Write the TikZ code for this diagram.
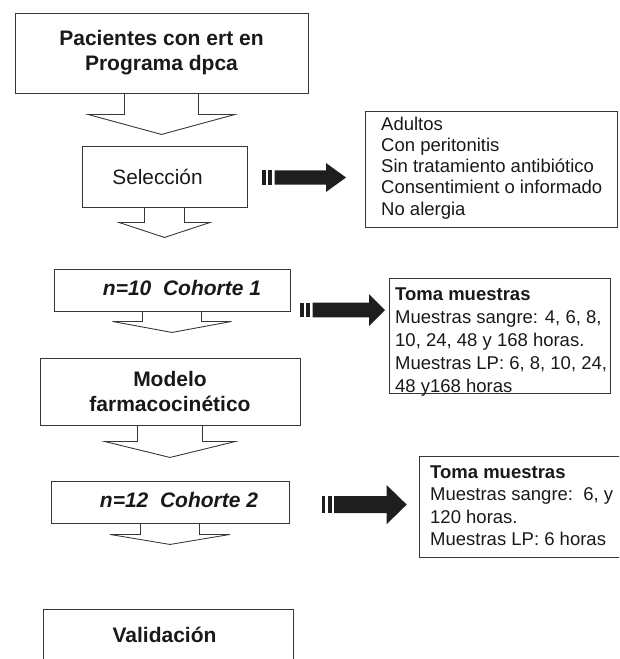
\documentclass[tikz,border=0pt]{standalone}
\usepackage{fontspec}
\setmainfont{Liberation Sans}
\usetikzlibrary{calc}
\definecolor{linec}{RGB}{55,55,55}
\definecolor{arrowc}{RGB}{30,30,30}
\definecolor{txtc}{RGB}{25,25,25}
\tikzset{
  flowbox/.style={draw=linec, line width=0.9pt, inner sep=0pt, align=center, text=txtc},
  outl/.style={draw=linec, line width=0.9pt, line join=miter},
  arrowfill/.style={fill=arrowc},
  infobox/.style={draw=linec, line width=0.9pt, inner sep=0pt, anchor=north west},
  infotxt/.style={inner sep=0pt, anchor=base west, text=txtc},
  bigfont/.style={font=\fontsize{21}{25}\selectfont\bfseries},
  smallfont/.style={font=\fontsize{18.5}{21.3}\selectfont},
}
% hollow block arrow below a node: #1 node, #2 half stem, #3 stem length, #4 half wing, #5 head length
\newcommand\hollowarrow[5]{%
  \draw[outl] ([shift={(-#2,0)}]#1.south) -- ([shift={(-#2,#3)}]#1.south)
    -- ([shift={(-#4,#3)}]#1.south) -- ([shift={(0,#3+#5)}]#1.south)
    -- ([shift={(#4,#3)}]#1.south) -- ([shift={(#2,#3)}]#1.south)
    -- ([shift={(#2,0)}]#1.south);}
% solid arrow with two bars: #1 start coordinate, #2 tip distance, #3 head length, #4 shaft half, #5 head half
\newcommand\solidarrow[5]{%
  \begin{scope}[shift={(#1)}]
    \fill[arrowfill] (0,-#4) rectangle (3.6,#4);
    \fill[arrowfill] (6.2,-#4) rectangle (9.8,#4);
    \fill[arrowfill] (12.5,-#4) -- ({#2-#3},-#4) -- ({#2-#3},-#5) -- (#2,0)
      -- ({#2-#3},#5) -- ({#2-#3},#4) -- (12.5,#4) -- cycle;
  \end{scope}}
\begin{document}
\begin{tikzpicture}[x=1pt,y=-1pt]
\useasboundingbox (0,0) rectangle (619,659);
\clip (0,0) rectangle (619,659);

% left column
\node[flowbox, bigfont, minimum width=293pt, minimum height=80pt] (pac) at (161.5,53)
  {Pacientes con ert en\\Programa dpca};
\node[flowbox, font=\fontsize{20.8}{24}\selectfont, minimum width=165pt, minimum height=61pt] (sel) at (164.5,176.5)
  {Selección\hspace*{14pt}};
\node[flowbox, font=\fontsize{21}{25}\selectfont\bfseries\itshape, minimum width=236pt, minimum height=42pt,
  text height=10pt, text depth=0pt] (coh1) at (172,290)
  {\hspace*{20pt}n=10\ \ Cohorte 1};
\node[flowbox, bigfont, minimum width=260pt, minimum height=67pt] (mod) at (170,391.5)
  {Modelo\\farmacocinético};
\node[flowbox, font=\fontsize{21}{25}\selectfont\bfseries\itshape, minimum width=238pt, minimum height=42pt,
  text height=10pt, text depth=0pt] (coh2) at (170,502)
  {\hspace*{18pt}n=12\ \ Cohorte 2};
\node[flowbox, bigfont, minimum width=250pt, minimum height=52pt] (val) at (168,635)
  {Validación\hspace*{7pt}};

% hollow arrows
\hollowarrow{pac}{37}{21}{73.5}{20}
\hollowarrow{sel}{20}{15}{45.5}{15}
\hollowarrow{coh1}{29.5}{10}{59.5}{11}
\hollowarrow{mod}{32.5}{16}{65.5}{16}
\hollowarrow{coh2}{29.5}{11}{60}{10}

% right column boxes
\node[infobox, minimum width=252pt, minimum height=116pt] (crit) at (365,111) {};
\node[infotxt, smallfont] (crittxt) at (381,130)
  {\parbox[t]{235pt}{\fontsize{18.5}{21.3}\selectfont\raggedright
   Adultos\\Con peritonitis\\Sin tratamiento antibiótico\\Consentimient o informado\\No alergia}};

\node[infobox, minimum width=221pt, minimum height=115pt] (toma1) at (389,278) {};
\node[infotxt, smallfont] (toma1txt) at (395,300)
  {\parbox[t]{214pt}{\fontsize{18.5}{23}\selectfont\raggedright
   \textbf{Toma muestras}\\Muestras sangre: 4, 6, 8,\\10, 24, 48 y 168 horas.\\Muestras LP: 6, 8, 10, 24,\\48 y168 horas}};

\node[infobox, minimum width=240pt, minimum height=101pt] (toma2) at (419,456) {};
\node[infotxt, smallfont] (toma2txt) at (430,478)
  {\parbox[t]{220pt}{\fontsize{18.5}{22.5}\selectfont\raggedright
   \textbf{Toma muestras}\\Muestras sangre:\ \ 6, y\\120 horas.\\Muestras LP: 6 horas}};

% solid arrows (from left box towards right box)
\coordinate (s1) at (262,177.5);
\coordinate (s2) at (300,310);
\coordinate (s3) at (321.7,504.6);
\solidarrow{s1}{84}{20}{7.2}{14.5}
\solidarrow{s2}{85}{16}{7.3}{16}
\solidarrow{s3}{85}{20}{8.5}{19.5}
\end{tikzpicture}
\end{document}
